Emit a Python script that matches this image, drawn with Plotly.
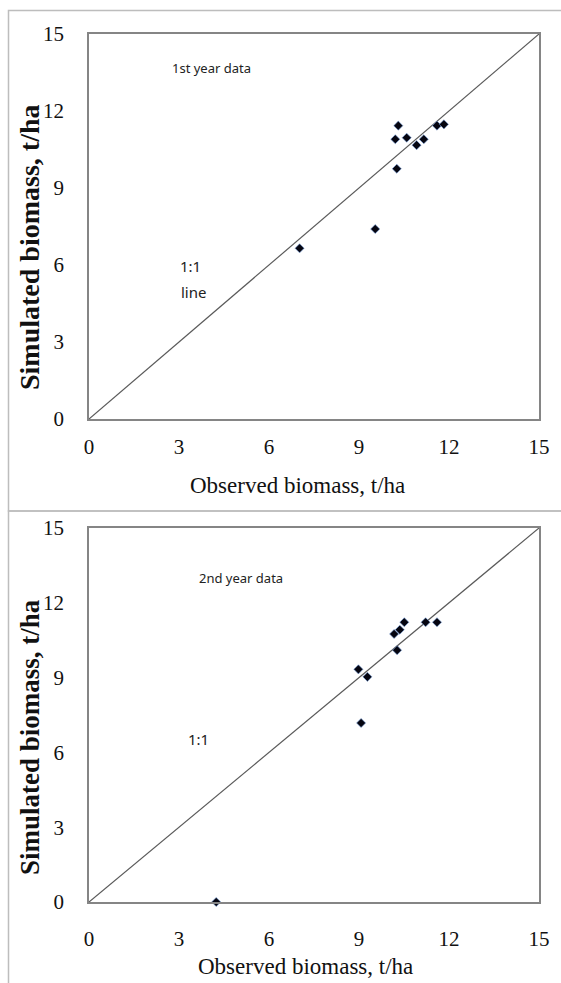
import plotly.graph_objects as go

# ---- data ----
obs_year1 = [7.02, 9.54, 10.26, 10.21, 10.31, 10.59, 10.92, 11.16, 11.60, 11.83]
sim_year1 = [6.65, 7.40, 9.75, 10.90, 11.43, 10.96, 10.67, 10.90, 11.43, 11.48]

obs_year2 = [4.24, 8.98, 9.28, 9.07, 10.17, 10.36, 10.51, 10.27, 11.22, 11.60]
sim_year2 = [0.00, 9.33, 9.03, 7.18, 10.75, 10.92, 11.22, 10.10, 11.22, 11.22]

one_to_one = [0, 15]
tick_vals = [0, 3, 6, 9, 12, 15]
tick_text = ["0", "3", "6", "9", "12", "15"]

W, H = 561, 983

def px_x(p):
    return p / W

def px_y(p):
    return 1 - p / H

fig = go.Figure()

marker = dict(symbol="diamond", size=7, color="#050510",
              line=dict(width=1, color="rgba(120,160,220,0.6)"))

for i, (ox, sy) in enumerate([(obs_year1, sim_year1), (obs_year2, sim_year2)]):
    xa = "x" if i == 0 else "x2"
    ya = "y" if i == 0 else "y2"
    fig.add_trace(go.Scatter(x=one_to_one, y=one_to_one, mode="lines",
                             line=dict(color="#5a5a5a", width=1.2),
                             xaxis=xa, yaxis=ya, showlegend=False, hoverinfo="skip"))
    fig.add_trace(go.Scatter(x=ox, y=sy, mode="markers", marker=marker,
                             xaxis=xa, yaxis=ya, showlegend=False, cliponaxis=False))

axis_common = dict(range=[0, 15], tickvals=tick_vals, ticktext=tick_text,
                   showgrid=False, zeroline=False, showline=True, mirror=True,
                   linecolor="#858585", linewidth=1.5, ticks="outside",
                   tickcolor="rgba(0,0,0,0)", automargin=False,
                   tickfont=dict(family="Liberation Serif", size=21, color="#111"),
                   fixedrange=True)

xdom = [px_x(89), px_x(539)]
fig.update_layout(
    template="none",
    width=W, height=H,
    margin=dict(l=0, r=0, t=0, b=0, pad=0),
    paper_bgcolor="white", plot_bgcolor="white",
    xaxis=dict(domain=xdom, anchor="y", ticklen=8, **axis_common),
    yaxis=dict(domain=[px_y(419), px_y(34)], anchor="x", ticklen=19, **axis_common),
    xaxis2=dict(domain=xdom, anchor="y2", ticklen=17, **axis_common),
    yaxis2=dict(domain=[px_y(902), px_y(528)], anchor="x2", ticklen=19, **axis_common),
)

annotations = []
xt_font = dict(family="Liberation Serif", size=23, color="#111")
for xt_x, xt_y, yt_y, ysize in [(297, 485, 247, 28), (305, 966, 737, 27)]:
    annotations.append(dict(text="Observed biomass, t/ha", xref="paper", yref="paper",
                            x=px_x(xt_x), y=px_y(xt_y), showarrow=False,
                            xanchor="center", yanchor="middle", font=xt_font))
    annotations.append(dict(text="<b>Simulated biomass, t/ha</b>", xref="paper", yref="paper",
                            x=px_x(30), y=px_y(yt_y), showarrow=False, textangle=-90,
                            xanchor="center", yanchor="middle",
                            font=dict(family="Liberation Serif", size=ysize, color="#111")))

label_font = dict(family="Noto Sans", size=13, color="#222")
one_font = dict(family="Noto Sans", size=15, color="#222")
annotations += [
    dict(text="1st year data", xref="paper", yref="paper", x=px_x(170), y=px_y(57),
         showarrow=False, font=label_font, xanchor="left"),
    dict(text="1:1", xref="paper", yref="paper", x=px_x(190), y=px_y(254),
         showarrow=False, font=one_font),
    dict(text="line", xref="paper", yref="paper", x=px_x(193), y=px_y(280),
         showarrow=False, font=one_font),
    dict(text="2nd year data", xref="paper", yref="paper", x=px_x(197), y=px_y(578),
         showarrow=False, font=label_font, xanchor="left"),
    dict(text="1:1", xref="paper", yref="paper", x=px_x(198), y=px_y(751),
         showarrow=False, font=one_font),
]
fig.update_layout(annotations=annotations)

# outer panel frames
frame = dict(color="#bdbdbd", width=1.5)
fig.add_shape(type="rect", xref="paper", yref="paper",
              x0=px_x(8.5), x1=1.05, y0=px_y(511), y1=px_y(10.5), line=frame)
fig.add_shape(type="rect", xref="paper", yref="paper",
              x0=px_x(8.5), x1=1.05, y0=-0.05, y1=px_y(511), line=frame)

fig.write_html(
    "out.html",
    config={"displayModeBar": False},
    post_script="document.body.style.margin='0';"
                "document.documentElement.style.overflow='hidden';"
                "document.body.style.overflow='hidden';",
)
